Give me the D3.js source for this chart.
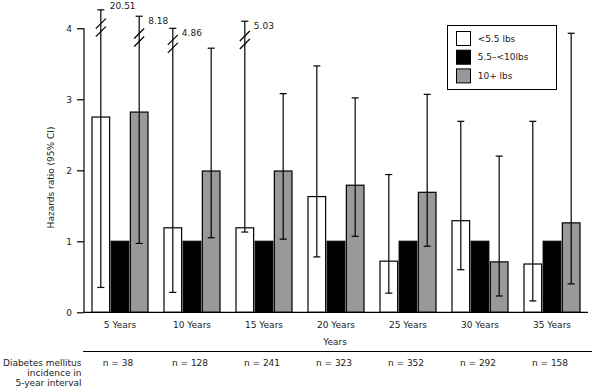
<!DOCTYPE html>
<html><head><meta charset="utf-8">
<script src="https://cdn.jsdelivr.net/npm/d3@7"></script>
<style>body{margin:0;background:#fff}svg{display:block}text{font-family:"DejaVu Sans",Verdana,sans-serif;font-size:9px;fill:#222}</style>
</head><body>
<svg id="c" width="592" height="391"></svg>
<script>
const categories = ["5 Years","10 Years","15 Years","20 Years","25 Years","30 Years","35 Years"];
const seriesNames = ["<5.5 lbs","5.5\u2013<10lbs","10+ lbs"];
const seriesColors = ["#ffffff","#000000","#999999"];
const nCounts = ["n = 38","n = 128","n = 241","n = 323","n = 352","n = 292","n = 158"];
const low = [2.75,1.19,1.19,1.63,0.72,1.29,0.68];
const lowCIlo = [0.35,0.28,1.13,0.78,0.27,0.60,0.16];
const lowCIhi = [20.51,4.86,5.03,3.47,1.94,2.69,2.69];
const mid = [1,1,1,1,1,1,1];
const high = [2.82,1.99,1.99,1.79,1.69,0.71,1.26];
const highCIlo = [0.97,1.05,1.03,1.07,0.93,0.23,0.40];
const highCIhi = [8.18,3.72,3.08,3.02,3.07,2.20,3.93];
const yTicks = [0,1,2,3,4];
// truncated upper limits: drawn cap height, break position and label position (data units)
const truncSeries = [0,2,0,0];
const truncCat = [0,0,1,2];
const truncCap = [4.26,4.17,4.0,4.1];
const truncBreak = [4.01,3.87,3.78,3.835];
const truncLabelAt = [4.31,4.10,3.93,4.03];

const svg = d3.select("#c");
const x = d3.scaleBand().domain(categories).range([84,588]).paddingInner(0.222).paddingOuter(0.111);
const xs = d3.scaleBand().domain(seriesNames).range([0,x.bandwidth()]).paddingInner(0.08);
const y = d3.scaleLinear().domain([0,4]).range([312.3,28.3]);
const color = d3.scaleOrdinal().domain(seriesNames).range(seriesColors);

const vals = [low, mid, high];
const ciLo = [lowCIlo, null, highCIlo];
const ciHi = [lowCIhi, null, highCIhi];

// bars
const barData = [];
categories.forEach((c,i)=>seriesNames.forEach((s,j)=>barData.push({c,s,i,j,v:vals[j][i]})));
svg.append("g").selectAll("rect").data(barData).join("rect")
  .attr("x",d=>x(d.c)+xs(d.s)).attr("width",xs.bandwidth())
  .attr("y",d=>y(d.v)).attr("height",d=>y(0)-y(d.v))
  .attr("fill",d=>color(d.s)).attr("stroke","#000").attr("stroke-width",1.2);

// error bars
const truncKey = {};
truncSeries.forEach((s,k)=>truncKey[truncCat[k]+"_"+s]=k);
const eb = [];
categories.forEach((c,i)=>[0,2].forEach(j=>{
  const k = truncKey[i+"_"+j];
  eb.push({c,s:seriesNames[j],lo:ciLo[j][i],hi:k===undefined?ciHi[j][i]:truncCap[k],k});
}));
const cx = d=>x(d.c)+xs(d.s)+xs.bandwidth()/2;
const g = svg.append("g").attr("stroke","#000").attr("stroke-width",1.2);
g.selectAll(".v").data(eb).join("line").attr("x1",cx).attr("x2",cx).attr("y1",d=>y(d.lo)).attr("y2",d=>y(d.hi));
g.selectAll(".t").data(eb).join("line").attr("x1",d=>cx(d)-3.5).attr("x2",d=>cx(d)+3.5).attr("y1",d=>y(d.hi)).attr("y2",d=>y(d.hi));
g.selectAll(".b").data(eb).join("line").attr("x1",d=>cx(d)-3.5).attr("x2",d=>cx(d)+3.5).attr("y1",d=>y(d.lo)).attr("y2",d=>y(d.lo));

// breaks and labels
const tr = eb.filter(d=>d.k!==undefined);
tr.forEach(d=>{
  const px = cx(d), py = y(truncBreak[d.k]);
  [-4,4].forEach(o=>{
    svg.append("line").attr("x1",px-5).attr("x2",px+5).attr("y1",py+o+5).attr("y2",py+o-5)
      .attr("stroke","#000").attr("stroke-width",1.2);
  });
  svg.append("text").attr("x",px+9).attr("y",y(truncLabelAt[d.k])).attr("dy","0.35em")
    .text(d3.format(".2f")(ciHi[truncSeries[d.k]][truncCat[d.k]]));
});

// axes
const ya = svg.append("g").attr("transform","translate(84,0)")
  .call(d3.axisLeft(y).tickValues(yTicks).tickFormat(d3.format("d")).tickSize(7).tickPadding(5));
ya.select(".domain").attr("d",`M0,${y(4)}V${y(0)}`).attr("stroke","#000").attr("stroke-width",1.2);
ya.selectAll(".tick line").attr("stroke","#000").attr("stroke-width",1.2);
ya.selectAll("text").style("font-family","DejaVu Sans").style("font-size","9px").attr("fill","#222");

const xa = svg.append("g").attr("transform",`translate(0,${y(0)})`)
  .call(d3.axisBottom(x).tickSize(0).tickPadding(9));
xa.select(".domain").attr("d","M84,0H588").attr("stroke","#000").attr("stroke-width",1.2);
xa.selectAll("text").style("font-family","DejaVu Sans").style("font-size","9px").attr("fill","#222");

svg.append("text").attr("x",335).attr("y",344.5).attr("text-anchor","middle").text("Years");
svg.append("text").attr("transform","translate(53.5,177.5) rotate(-90)").attr("text-anchor","middle").text("Hazards ratio (95% CI)");

// n row
svg.append("line").attr("x1",83).attr("x2",592).attr("y1",351.5).attr("y2",351.5).attr("stroke","#000").attr("stroke-width",1.2);
svg.append("g").selectAll("text").data(categories).join("text")
  .attr("x",(c)=>x(c)+x.bandwidth()/2-2).attr("y",365.6).attr("text-anchor","middle")
  .text((c,i)=>nCounts[i]);
["Diabetes mellitus","incidence in","5-year interval"].forEach((t,i)=>
  svg.append("text").attr("x",81.5).attr("y",365.6+i*10.3).attr("text-anchor","end").text(t));

// legend
const lg = svg.append("g");
lg.append("rect").attr("x",447.5).attr("y",25.5).attr("width",109).attr("height",64).attr("fill","#fff").attr("stroke","#000").attr("stroke-width",1);
seriesNames.forEach((s,i)=>{
  lg.append("rect").attr("x",456.5).attr("y",31.5+i*18.7).attr("width",14).attr("height",14)
    .attr("fill",color(s)).attr("stroke","#000").attr("stroke-width",1);
  lg.append("text").attr("x",477.7).attr("y",38.5+i*18.7).attr("dy","0.35em").text(s);
});
</script>
</body></html>
